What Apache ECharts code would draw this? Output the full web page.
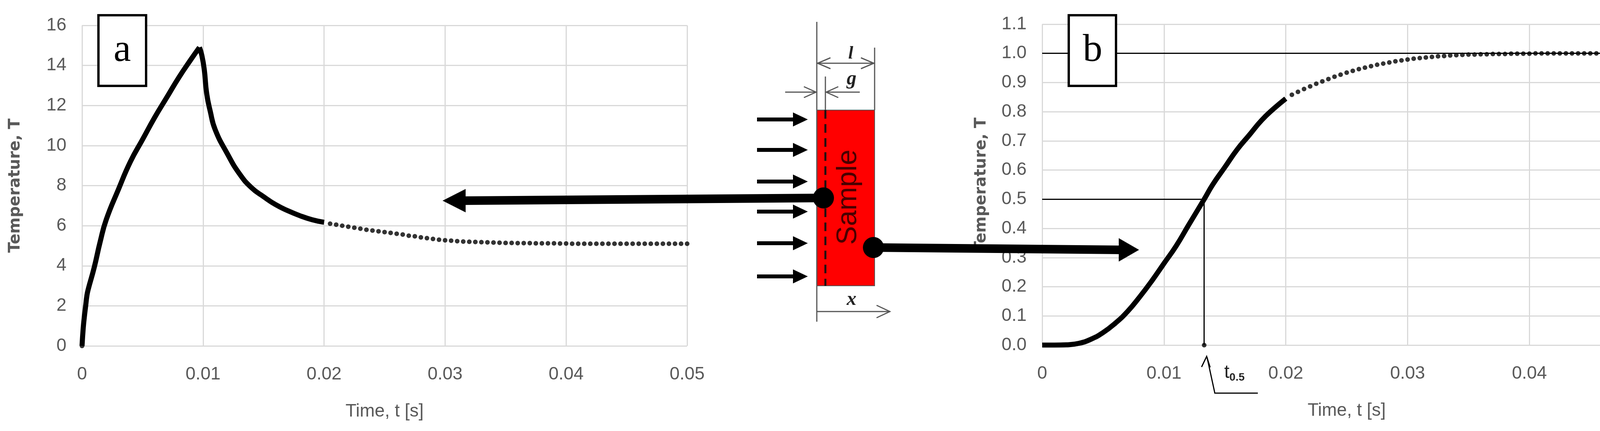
<!DOCTYPE html>
<html><head><meta charset="utf-8">
<script src="https://cdn.jsdelivr.net/npm/echarts@6/dist/echarts.min.js"></script>
<style>html,body{margin:0;padding:0;background:#fff}#c{width:4288px;height:1104px}</style>
</head><body><div id="c"></div>
<script>
// ---- Data ----
var xTicks = [0, 0.01, 0.02, 0.03, 0.04, 0.05];
var yTicksA = [0, 2, 4, 6, 8, 10, 12, 14, 16];
var yTicksB = [0, 0.1, 0.2, 0.3, 0.4, 0.5, 0.6, 0.7, 0.8, 0.9, 1.0, 1.1];
var heatA = [[0,0],[0.0001,0.9],[0.0002,1.5],[0.0003,2.0],[0.0004,2.5],[0.0005,2.8],[0.001,3.9],[0.0015,5.2],[0.002,6.3],[0.003,7.8],[0.004,9.2],[0.005,10.3],[0.006,11.4],[0.007,12.4],[0.008,13.4],[0.009,14.3],[0.0097,14.9]];
var coolA = [[0.0097,14.9],[0.0099,14.5],[0.0101,13.8],[0.0103,12.6],[0.0106,11.7],[0.011,10.8],[0.012,9.6],[0.013,8.6],[0.014,7.9],[0.015,7.45],[0.016,7.05],[0.017,6.75],[0.018,6.5],[0.019,6.3],[0.020,6.17]];
var sparseStart = 0.0205, sparseStep = 0.0005;
var sparseA = [6.1,6.05,6.0,5.95,5.9,5.85,5.8,5.76,5.72,5.68,5.64,5.6,5.56,5.5,5.47,5.42,5.38,5.34,5.3,5.27,5.25,5.23,5.21,5.2,5.19,5.18,5.17,5.16,5.15,5.14,
  5.14,5.13,5.13,5.13,5.12,5.12,5.12,5.12,5.11,5.11,5.1,5.1,5.1,5.1,5.1,5.1,5.1,5.1,5.1,5.1,5.1,5.1,5.1,5.1,5.1,5.1,5.1,5.1,5.1,5.1];
var denseB = [[0,0],[0.001,0],[0.002,0.001],[0.003,0.006],[0.004,0.02],[0.005,0.043],[0.006,0.075],[0.007,0.115],[0.008,0.165],[0.009,0.22],[0.010,0.28],[0.011,0.34],[0.012,0.41],[0.0133,0.5],[0.014,0.55],[0.015,0.61],[0.016,0.67],[0.017,0.72],[0.018,0.77],[0.019,0.81],[0.020,0.845]];
var sparseB = [0.858,0.868,0.878,0.887,0.896,0.904,0.912,0.92,0.927,0.934,0.94,0.946,0.951,0.956,0.961,0.965,0.969,0.973,0.976,0.979,0.982,0.984,0.986,0.988,0.99,0.991,0.993,0.994,0.995,0.996,
  0.996,0.997,0.997,0.998,0.998,0.998,0.999,0.999,0.999,0.999,1,1,1,1,1,1,1,1,1,1,1,1,1,1,1,1,1,1,1,1];
var tHalf = 0.0133;

function sp(arr){ return arr.map(function(v,i){ return [sparseStart + i*sparseStep, v]; }); }

var FONT = "'Liberation Sans Narrow', 'Liberation Sans', sans-serif";
var grey = '#595959';
function xAxis(gi){ return {gridIndex:gi, type:'value', min:0, max:0.05, interval:0.01,
  name:'Time, t [s]', nameLocation:'middle', nameGap:145,
  nameTextStyle:{fontFamily:FONT, fontSize:46, color:grey},
  axisLine:{show:false}, axisTick:{show:false}, splitLine:{show:true, lineStyle:{color:'#d9d9d9', width:3}},
  axisLabel:{fontFamily:FONT, fontSize:46, color:grey, margin:50, formatter:function(v){return v===0?'0':String(+v.toFixed(2));}}}; }
function yAxis(gi,max,iv,fmt){ return {gridIndex:gi, type:'value', min:0, max:max, interval:iv,
  name:'Temperature, T', nameLocation:'middle', nameGap: gi===0?150:135,
  nameTextStyle:{fontFamily:"'DejaVu Sans', sans-serif", fontWeight:'bold', fontSize:40, color:grey},
  axisLine:{show:false}, axisTick:{show:false}, splitLine:{show:true, lineStyle:{color:'#d9d9d9', width:3}},
  axisLabel:{fontFamily:FONT, fontSize:46, color:grey, margin:40, formatter:fmt}}; }

var chart = echarts.init(document.getElementById('c'));
var dense = {type:'line', smooth:true, showSymbol:false, lineStyle:{color:'#000', width:13}, z:3, silent:true};
var dots = {type:'scatter', symbolSize:12, itemStyle:{color:'#000'}, z:3, silent:true};
chart.setOption({
  animation:false,
  grid:[{left:210, width:1549, top:65, height:821},{left:2668, width:1559, top:62, height:822}],
  xAxis:[xAxis(0), xAxis(1)],
  yAxis:[yAxis(0,16,2,function(v){return String(v);}), yAxis(1,1.1,0.1,function(v){return v.toFixed(1);})],
  series:[
    Object.assign({}, dense, {xAxisIndex:0, yAxisIndex:0, data:heatA}),
    Object.assign({}, dense, {xAxisIndex:0, yAxisIndex:0, data:coolA}),
    Object.assign({}, dots, {xAxisIndex:0, yAxisIndex:0, data:sp(sparseA).concat([[0,0],[0.0001,0.9],[0.0002,1.5],[0.0003,2.0]])}),
    Object.assign({}, dense, {xAxisIndex:1, yAxisIndex:1, data:denseB,
      markLine:{symbol:'none', silent:true, label:{show:false}, lineStyle:{color:'#000', width:3, type:'solid'},
        data:[[{coord:[0,1]},{coord:[0.05,1]}],[{coord:[0,0.5]},{coord:[tHalf,0.5]}],[{coord:[tHalf,0.5]},{coord:[tHalf,0]}]]}}),
    Object.assign({}, dots, {xAxisIndex:1, yAxisIndex:1, data:sp(sparseB).concat([[tHalf,0]])})
  ],
  graphic:[
    // label boxes
    {type:'rect', shape:{x:252,y:39,width:122,height:181}, style:{fill:'#fff', stroke:'#000', lineWidth:6}, z:10},
    {type:'text', x:313, y:130, style:{text:'a', fontFamily:"'Liberation Serif', serif", fontSize:100, fill:'#000', align:'center', verticalAlign:'middle'}, z:11},
    {type:'rect', shape:{x:2736,y:39,width:121,height:181}, style:{fill:'#fff', stroke:'#000', lineWidth:6}, z:10},
    {type:'text', x:2797, y:130, style:{text:'b', fontFamily:"'Liberation Serif', serif", fontSize:100, fill:'#000', align:'center', verticalAlign:'middle'}, z:11},
    // sample
    {type:'rect', shape:{x:2091,y:282,width:148,height:450}, style:{fill:'#ff0000', stroke:'#555', lineWidth:2}, z:10},
    {type:'line', shape:{x1:2113,y1:282,x2:2113,y2:732}, style:{stroke:'#111', lineWidth:5, lineDash:[22,14]}, z:11},
    {type:'text', x:2172, y:505, rotation:Math.PI/2, style:{text:'Sample', fontFamily:"'Liberation Sans', sans-serif", fontSize:72, fill:'#4a0000', align:'center', verticalAlign:'middle'}, z:11},
    {type:'line', shape:{x1:2091,y1:56,x2:2091,y2:824}, style:{stroke:'#555', lineWidth:3}, z:11},
    {type:'line', shape:{x1:2239,y1:122,x2:2239,y2:282}, style:{stroke:'#555', lineWidth:3}, z:11},
    {type:'line', shape:{x1:2113,y1:196,x2:2113,y2:282}, style:{stroke:'#555', lineWidth:3}, z:11},
    // l dimension
    {type:'line', shape:{x1:2091,y1:162,x2:2239,y2:162}, style:{stroke:'#555', lineWidth:3}, z:11},
    {type:'polyline', shape:{points:[[2126,148],[2093,162],[2126,176]]}, style:{stroke:'#555', lineWidth:3, fill:null}, z:11},
    {type:'polyline', shape:{points:[[2204,148],[2237,162],[2204,176]]}, style:{stroke:'#555', lineWidth:3, fill:null}, z:11},
    {type:'text', x:2178, y:138, style:{text:'l', fontFamily:"'Liberation Serif', serif", fontStyle:'italic', fontWeight:'bold', fontSize:46, fill:'#222', align:'center', verticalAlign:'middle'}, z:11},
    // g dimension
    {type:'line', shape:{x1:2010,y1:236,x2:2089,y2:236}, style:{stroke:'#555', lineWidth:3}, z:11},
    {type:'polyline', shape:{points:[[2058,222],[2089,236],[2058,250]]}, style:{stroke:'#555', lineWidth:3, fill:null}, z:11},
    {type:'line', shape:{x1:2115,y1:236,x2:2201,y2:236}, style:{stroke:'#555', lineWidth:3}, z:11},
    {type:'polyline', shape:{points:[[2146,222],[2115,236],[2146,250]]}, style:{stroke:'#555', lineWidth:3, fill:null}, z:11},
    {type:'text', x:2180, y:203, style:{text:'g', fontFamily:"'Liberation Serif', serif", fontStyle:'italic', fontWeight:'bold', fontSize:50, fill:'#222', align:'center', verticalAlign:'middle'}, z:11},
    // x dimension
    {type:'line', shape:{x1:2091,y1:798,x2:2278,y2:798}, style:{stroke:'#555', lineWidth:3}, z:11},
    {type:'polyline', shape:{points:[[2244,782],[2278,798],[2244,814]]}, style:{stroke:'#555', lineWidth:3, fill:null}, z:11},
    {type:'text', x:2180, y:768, style:{text:'x', fontFamily:"'Liberation Serif', serif", fontStyle:'italic', fontWeight:'bold', fontSize:50, fill:'#222', align:'center', verticalAlign:'middle'}, z:11},
    // heat flux arrows
    {type:'group', z:11, children:[306,384,465,542,623,708].map(function(y){ return {type:'group', children:[
      {type:'line', shape:{x1:1938,y1:y,x2:2036,y2:y}, style:{stroke:'#000', lineWidth:10}},
      {type:'polygon', shape:{points:[[2030,y-18],[2068,y],[2030,y+18]]}, style:{fill:'#000'}}]}; })},
    // big arrows
    {type:'line', shape:{x1:2108,y1:507,x2:1185,y2:514}, style:{stroke:'#000', lineWidth:22}, z:12},
    {type:'polygon', shape:{points:[[1133,514],[1192,484],[1192,544]]}, style:{fill:'#000'}, z:12},
    {type:'circle', shape:{cx:2108,cy:507,r:27}, style:{fill:'#000'}, z:12},
    {type:'line', shape:{x1:2236,y1:634,x2:2870,y2:640}, style:{stroke:'#000', lineWidth:22}, z:12},
    {type:'polygon', shape:{points:[[2916,640],[2864,610],[2864,670]]}, style:{fill:'#000'}, z:12},
    {type:'circle', shape:{cx:2236,cy:634,r:27}, style:{fill:'#000'}, z:12},
    // t0.5 pointer
    {type:'polyline', shape:{points:[[3220,1007],[3110,1007],[3090,915]]}, style:{stroke:'#000', lineWidth:3, fill:null}, z:12},
    {type:'polyline', shape:{points:[[3076,940],[3089,913],[3098,941]]}, style:{stroke:'#000', lineWidth:3, fill:null}, z:12},
    {type:'text', x:3134, y:955, style:{text:'{t|t}{s|0.5}', rich:{t:{fontFamily:FONT, fontSize:48, fill:'#222'}, s:{fontFamily:FONT, fontSize:28, fontWeight:'bold', fill:'#222', padding:[24,0,0,0]}}, verticalAlign:'middle'}, z:12}
  ]
});
</script></body></html>
